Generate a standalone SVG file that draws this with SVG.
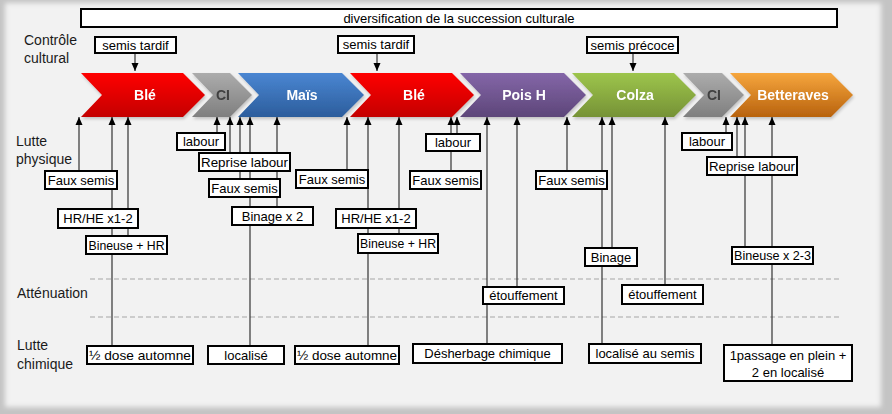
<svg xmlns="http://www.w3.org/2000/svg" width="892" height="414" viewBox="0 0 892 414">
<defs>
<style>
.box{fill:#fff;stroke:#000;stroke-width:2}
.bt{font-family:"Liberation Sans",Arial,sans-serif;font-size:13px;fill:#000;text-anchor:middle}
.lab{font-family:"Liberation Sans",Arial,sans-serif;font-size:14px;fill:#1a1a1a}
.cl{font-family:"Liberation Sans",Arial,sans-serif;font-size:14px;font-weight:bold;fill:#fff;text-anchor:middle}
.con line{stroke:#333;stroke-width:1.2;marker-end:url(#ah)}
.dash{stroke:#a6a6a6;stroke-width:1;stroke-dasharray:5,3}
</style>
<marker id="ah" markerUnits="userSpaceOnUse" markerWidth="8" markerHeight="8" refX="8" refY="4" orient="auto">
<path d="M0,0.5 L8,4 L0,7.5 Z" fill="#000"/>
</marker>
<filter id="blur" x="-5%" y="-5%" width="110%" height="110%"><feGaussianBlur stdDeviation="2.5"/></filter>
<filter id="sh" x="-10%" y="-10%" width="130%" height="140%"><feDropShadow dx="1" dy="2" stdDeviation="1.5" flood-color="#000" flood-opacity="0.2"/></filter>
<linearGradient id="gRed" x1="0" y1="0" x2="0" y2="1"><stop offset="0" stop-color="#ff0000"/><stop offset="1" stop-color="#c40000"/></linearGradient>
<linearGradient id="gGray" x1="0" y1="0" x2="0" y2="1"><stop offset="0" stop-color="#acacac"/><stop offset="1" stop-color="#7f7f7f"/></linearGradient>
<linearGradient id="gBlue" x1="0" y1="0" x2="0" y2="1"><stop offset="0" stop-color="#4a86d2"/><stop offset="1" stop-color="#2c5d9c"/></linearGradient>
<linearGradient id="gPurple" x1="0" y1="0" x2="0" y2="1"><stop offset="0" stop-color="#8466a8"/><stop offset="1" stop-color="#5d4679"/></linearGradient>
<linearGradient id="gGreen" x1="0" y1="0" x2="0" y2="1"><stop offset="0" stop-color="#9dc54c"/><stop offset="1" stop-color="#769236"/></linearGradient>
<linearGradient id="gOrange" x1="0" y1="0" x2="0" y2="1"><stop offset="0" stop-color="#f6a63d"/><stop offset="1" stop-color="#b8620e"/></linearGradient>
</defs>

<rect x="0" y="0" width="892" height="414" fill="#c4c4c4"/>
<rect x="5" y="3" width="876" height="404" fill="#f2f2f2" filter="url(#blur)"/>

<g id="labels">
<text class="lab" x="24" y="45">Contrôle</text>
<text class="lab" x="24" y="63">cultural</text>
<text class="lab" x="16" y="146">Lutte</text>
<text class="lab" x="16" y="164">physique</text>
<text class="lab" x="17" y="298">Atténuation</text>
<text class="lab" x="17" y="350">Lutte</text>
<text class="lab" x="17" y="369">chimique</text>
</g>

<g id="bands">
<line class="dash" x1="90" y1="279" x2="842" y2="279"/>
<line class="dash" x1="90" y1="317" x2="842" y2="317"/>
</g>

<g id="connectors" class="con">
<line x1="135" y1="53" x2="135" y2="71"/>
<line x1="377" y1="53" x2="377" y2="71"/>
<line x1="633" y1="53" x2="633" y2="71"/>
<line x1="79" y1="171" x2="79" y2="117"/>
<line x1="112" y1="346" x2="112" y2="117"/>
<line x1="128" y1="236" x2="128" y2="117"/>
<line x1="217" y1="133" x2="217" y2="117"/>
<line x1="230" y1="153" x2="230" y2="117"/>
<line x1="240" y1="179" x2="240" y2="117"/>
<line x1="250" y1="346" x2="250" y2="117"/>
<line x1="277" y1="207" x2="277" y2="117"/>
<line x1="347" y1="170" x2="347" y2="117"/>
<line x1="368" y1="346" x2="368" y2="117"/>
<line x1="399" y1="234" x2="399" y2="117"/>
<line x1="451" y1="171" x2="451" y2="117"/>
<line x1="457" y1="134" x2="457" y2="117"/>
<line x1="487" y1="344" x2="487" y2="117"/>
<line x1="517" y1="287" x2="517" y2="117"/>
<line x1="567" y1="171" x2="567" y2="117"/>
<line x1="602" y1="344" x2="602" y2="117"/>
<line x1="612" y1="248" x2="612" y2="117"/>
<line x1="665" y1="285" x2="665" y2="117"/>
<line x1="726" y1="133" x2="726" y2="117"/>
<line x1="737" y1="157" x2="737" y2="117"/>
<line x1="745" y1="247" x2="745" y2="117"/>
<line x1="772" y1="345" x2="772" y2="117"/>
</g>

<g id="chevrons" filter="url(#sh)">
<g id="c-ble1"><path d="M81,73 L183,73 L205,95 L183,117 L81,117 L102,95 Z" fill="url(#gRed)"/><text class="cl" x="145" y="100">Blé</text></g>
<g id="c-ci1"><path d="M192,73 L230,73 L252,95 L230,117 L192,117 L213,95 Z" fill="url(#gGray)"/><text class="cl" x="223" y="100" style="fill:#404040">CI</text></g>
<g id="c-mais"><path d="M238,73 L342,73 L364,95 L342,117 L238,117 L259,95 Z" fill="url(#gBlue)"/><text class="cl" x="302" y="100">Maïs</text></g>
<g id="c-ble2"><path d="M350,73 L452,73 L474,95 L452,117 L350,117 L371,95 Z" fill="url(#gRed)"/><text class="cl" x="414" y="100">Blé</text></g>
<g id="c-pois"><path d="M460,73 L564,73 L586,95 L564,117 L460,117 L481,95 Z" fill="url(#gPurple)"/><text class="cl" x="524" y="100">Pois H</text></g>
<g id="c-colza"><path d="M572,73 L674,73 L696,95 L674,117 L572,117 L593,95 Z" fill="url(#gGreen)"/><text class="cl" x="635" y="100">Colza</text></g>
<g id="c-ci2"><path d="M683,73 L722,73 L744,95 L722,117 L683,117 L704,95 Z" fill="url(#gGray)"/><text class="cl" x="714" y="100" style="fill:#404040">CI</text></g>
<g id="c-bett"><path d="M730,73 L831,73 L853,95 L831,117 L730,117 L751,95 Z" fill="url(#gOrange)"/><text class="cl" x="793" y="100">Betteraves</text></g>
</g>

<g id="n-diversification"><rect class="box" x="81" y="9" width="756" height="18"/><text class="bt" x="459" y="22.5">diversification de la succession culturale</text></g>
<g id="n-semis1"><rect class="box" x="95" y="37" width="81" height="16"/><text class="bt" x="135.5" y="49.5">semis tardif</text></g>
<g id="n-semis2"><rect class="box" x="338" y="36" width="76" height="17"/><text class="bt" x="376" y="49">semis tardif</text></g>
<g id="n-semis3"><rect class="box" x="587" y="37" width="91" height="16"/><text class="bt" x="632.5" y="49.5">semis précoce</text></g>

<g id="n-faux1"><rect class="box" x="45" y="171" width="72" height="18"/><text class="bt" x="81" y="184.5">Faux semis</text></g>
<g id="n-hrhe1"><rect class="box" x="58" y="209" width="80" height="19"/><text class="bt" x="98" y="223">HR/HE x1-2</text></g>
<g id="n-bin1"><rect class="box" x="86" y="236" width="81" height="18"/><text class="bt" x="126.5" y="249.5" textLength="76" lengthAdjust="spacingAndGlyphs">Bineuse + HR</text></g>
<g id="n-labour1"><rect class="box" x="177" y="133" width="48" height="17"/><text class="bt" x="201" y="146">labour</text></g>
<g id="n-reprise1"><rect class="box" x="199" y="153" width="91" height="18"/><text class="bt" x="244.5" y="166.5" textLength="87" lengthAdjust="spacingAndGlyphs">Reprise labour</text></g>
<g id="n-faux2"><rect class="box" x="209" y="179" width="71" height="18"/><text class="bt" x="244.5" y="192.5">Faux semis</text></g>
<g id="n-binage2"><rect class="box" x="232" y="207" width="81" height="18"/><text class="bt" x="272.5" y="220.5">Binage x 2</text></g>
<g id="n-faux3"><rect class="box" x="296" y="170" width="72" height="18"/><text class="bt" x="332" y="183.5">Faux semis</text></g>
<g id="n-hrhe2"><rect class="box" x="336" y="209" width="80" height="19"/><text class="bt" x="376" y="223">HR/HE x1-2</text></g>
<g id="n-bin2"><rect class="box" x="358" y="234" width="80" height="19"/><text class="bt" x="398" y="248" textLength="76" lengthAdjust="spacingAndGlyphs">Bineuse + HR</text></g>
<g id="n-labour2"><rect class="box" x="426" y="134" width="54" height="17"/><text class="bt" x="453" y="147">labour</text></g>
<g id="n-faux4"><rect class="box" x="410" y="171" width="71" height="18"/><text class="bt" x="445.5" y="184.5">Faux semis</text></g>
<g id="n-faux5"><rect class="box" x="536" y="171" width="71" height="18"/><text class="bt" x="571.5" y="184.5">Faux semis</text></g>
<g id="n-binage"><rect class="box" x="585" y="248" width="52" height="18"/><text class="bt" x="611" y="261.5">Binage</text></g>
<g id="n-labour3"><rect class="box" x="682" y="133" width="50" height="17"/><text class="bt" x="707" y="146">labour</text></g>
<g id="n-reprise2"><rect class="box" x="707" y="157" width="90" height="18"/><text class="bt" x="752" y="170.5" textLength="86" lengthAdjust="spacingAndGlyphs">Reprise labour</text></g>
<g id="n-bin3"><rect class="box" x="732" y="247" width="81" height="17"/><text class="bt" x="772.5" y="260" textLength="77" lengthAdjust="spacingAndGlyphs">Bineuse x 2-3</text></g>

<g id="n-etouf1"><rect class="box" x="483" y="287" width="81" height="17"/><text class="bt" x="523.5" y="300">étouffement</text></g>
<g id="n-etouf2"><rect class="box" x="622" y="285" width="81" height="19"/><text class="bt" x="662.5" y="299">étouffement</text></g>

<g id="n-demi1"><rect class="box" x="87" y="346" width="106" height="18"/><text class="bt" x="140" y="359.5" textLength="102" lengthAdjust="spacingAndGlyphs">½ dose automne</text></g>
<g id="n-local"><rect class="box" x="208" y="346" width="76" height="18"/><text class="bt" x="246" y="359.5">localisé</text></g>
<g id="n-demi2"><rect class="box" x="295" y="346" width="104" height="18"/><text class="bt" x="347" y="359.5" textLength="100" lengthAdjust="spacingAndGlyphs">½ dose automne</text></g>
<g id="n-desherb"><rect class="box" x="413" y="344" width="149" height="19"/><text class="bt" x="487.5" y="358">Désherbage chimique</text></g>
<g id="n-localsemis"><rect class="box" x="589" y="344" width="112" height="19"/><text class="bt" x="645" y="358">localisé au semis</text></g>
<g id="n-passage"><rect class="box" x="724" y="345" width="128" height="36"/><text class="bt" x="788" y="359.5">1passage en plein +</text><text class="bt" x="788" y="376.5">2 en localisé</text></g>
</svg>
